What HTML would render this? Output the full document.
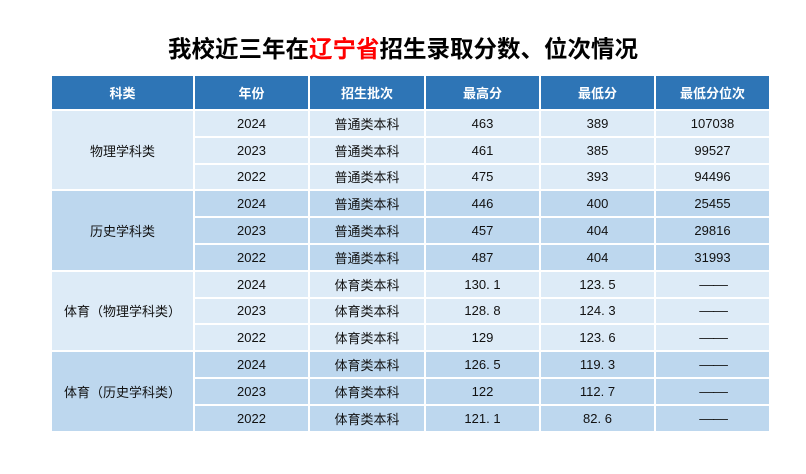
<!DOCTYPE html>
<html><head><meta charset="utf-8"><style>
body{margin:0;width:806px;height:474px;background:#fff;position:relative;overflow:hidden;font-family:"Liberation Sans","Noto Sans CJK SC",sans-serif;}
h1{position:absolute;top:34px;left:0;width:806px;margin:0;text-align:center;font-size:23.5px;font-weight:bold;color:#000;line-height:30px;}
h1 span{color:#ff0000}
table{position:absolute;left:50px;top:74px;border-collapse:collapse;table-layout:fixed;}
td,th{border:2px solid #fff;text-align:center;font-size:13px;color:#111;padding:0;}
th{background:#2e75b6;color:#fff;height:33px;font-weight:bold;}
td{height:24.8px;}
.a td{background:#ddebf7}
.b td{background:#bdd7ee}
.d{letter-spacing:-1px;transform:scaleX(1.15);display:inline-block}
</style></head><body>
<h1>我校近三年在<span>辽宁省</span>招生录取分数、位次情况</h1>
<table>
<colgroup><col style="width:143px"><col style="width:115px"><col style="width:116px"><col style="width:115px"><col style="width:115px"><col style="width:115px"></colgroup>
<tr><th>科类</th><th>年份</th><th>招生批次</th><th>最高分</th><th>最低分</th><th>最低分位次</th></tr>
<tr class="a"><td rowspan="3">物理学科类</td><td>2024</td><td>普通类本科</td><td>463</td><td>389</td><td>107038</td></tr>
<tr class="a"><td>2023</td><td>普通类本科</td><td>461</td><td>385</td><td>99527</td></tr>
<tr class="a"><td>2022</td><td>普通类本科</td><td>475</td><td>393</td><td>94496</td></tr>
<tr class="b"><td rowspan="3">历史学科类</td><td>2024</td><td>普通类本科</td><td>446</td><td>400</td><td>25455</td></tr>
<tr class="b"><td>2023</td><td>普通类本科</td><td>457</td><td>404</td><td>29816</td></tr>
<tr class="b"><td>2022</td><td>普通类本科</td><td>487</td><td>404</td><td>31993</td></tr>
<tr class="a"><td rowspan="3">体育（物理学科类）</td><td>2024</td><td>体育类本科</td><td>130. 1</td><td>123. 5</td><td><span class="d">——</span></td></tr>
<tr class="a"><td>2023</td><td>体育类本科</td><td>128. 8</td><td>124. 3</td><td><span class="d">——</span></td></tr>
<tr class="a"><td>2022</td><td>体育类本科</td><td>129</td><td>123. 6</td><td><span class="d">——</span></td></tr>
<tr class="b"><td rowspan="3">体育（历史学科类）</td><td>2024</td><td>体育类本科</td><td>126. 5</td><td>119. 3</td><td><span class="d">——</span></td></tr>
<tr class="b"><td>2023</td><td>体育类本科</td><td>122</td><td>112. 7</td><td><span class="d">——</span></td></tr>
<tr class="b"><td>2022</td><td>体育类本科</td><td>121. 1</td><td>82. 6</td><td><span class="d">——</span></td></tr>
</table>
</body></html>
